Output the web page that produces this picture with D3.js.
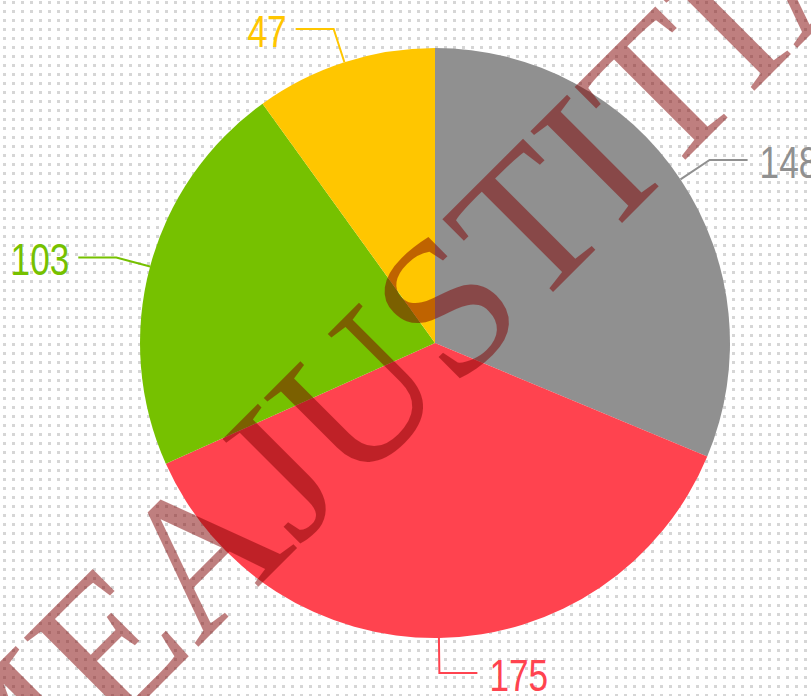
<!DOCTYPE html>
<html>
<head>
<meta charset="utf-8">
<script src="https://cdn.jsdelivr.net/npm/d3@7"></script>
<style>
  html, body { margin: 0; padding: 0; background: #fff; }
  svg { display: block; }
</style>
</head>
<body>
<div id="pie"></div>
<script>
// chart data
const labels = ["A", "B", "C", "D"];
const values = [148, 175, 103, 47];
const colors = ["#909090", "#ff434f", "#76c100", "#ffc600"];
const watermarkText = "MEAJUSTITIA";

const width = 811, height = 696;
const center = { x: 435, y: 343 };
const radius = 295;

const svg = d3.select("#pie")
  .append("svg")
  .attr("width", width)
  .attr("height", height);

// dotted background
const defs = svg.append("defs");
const pattern = defs.append("pattern")
  .attr("id", "dots")
  .attr("patternUnits", "userSpaceOnUse")
  .attr("x", 3).attr("y", 1)
  .attr("width", 9).attr("height", 9);
pattern.append("rect")
  .attr("width", 3).attr("height", 3)
  .attr("fill", "#d6d6d6");

svg.append("rect")
  .attr("width", width).attr("height", height)
  .attr("fill", "#fff");
svg.append("rect")
  .attr("width", width).attr("height", height)
  .attr("fill", "url(#dots)");

const g = svg.append("g")
  .attr("transform", `translate(${center.x},${center.y})`);

const data = labels.map((d, i) => ({ label: d, value: values[i], color: colors[i] }));

const pie = d3.pie()
  .sort(null)
  .value(d => d.value);

const arc = d3.arc()
  .innerRadius(0)
  .outerRadius(radius);

const arcs = pie(data);

g.selectAll("path.slice")
  .data(arcs)
  .enter()
  .append("path")
  .attr("class", "slice")
  .attr("d", arc)
  .attr("fill", d => d.data.color);

// leader lines + labels
const elbowR = radius + 35;
const tail = 38;

arcs.forEach(d => {
  const a = (d.startAngle + d.endAngle) / 2;
  const p0 = [Math.sin(a) * radius, -Math.cos(a) * radius];
  const p1 = [Math.sin(a) * elbowR, -Math.cos(a) * elbowR];
  const right = Math.sin(a) >= 0;
  const p2 = [p1[0] + (right ? tail : -tail), p1[1]];

  g.append("polyline")
    .attr("points", [p0, p1, p2].map(p => p.join(",")).join(" "))
    .attr("fill", "none")
    .attr("stroke", d.data.color)
    .attr("stroke-width", 2);

  // narrow digits, like the original condensed font
  g.append("text")
    .attr("transform", `translate(${p2[0] + (right ? 12 : -9)},${p2[1] + 18}) scale(0.8,1)`)
    .attr("text-anchor", right ? "start" : "end")
    .style("font-family", "'Liberation Sans', Arial, sans-serif")
    .style("font-size", "44px")
    .attr("fill", d.data.color)
    .text(d.data.value);
});

// watermark
svg.append("g")
  .attr("transform", "translate(-13,858) rotate(-45)")
  .append("text")
  .attr("x", 0).attr("y", 0)
  .style("font-family", "'Liberation Serif', 'DejaVu Serif', serif")
  .style("font-size", "198px")
  .attr("fill", "rgba(128,0,0,0.5)")
  .text(watermarkText);
</script>
</body>
</html>
